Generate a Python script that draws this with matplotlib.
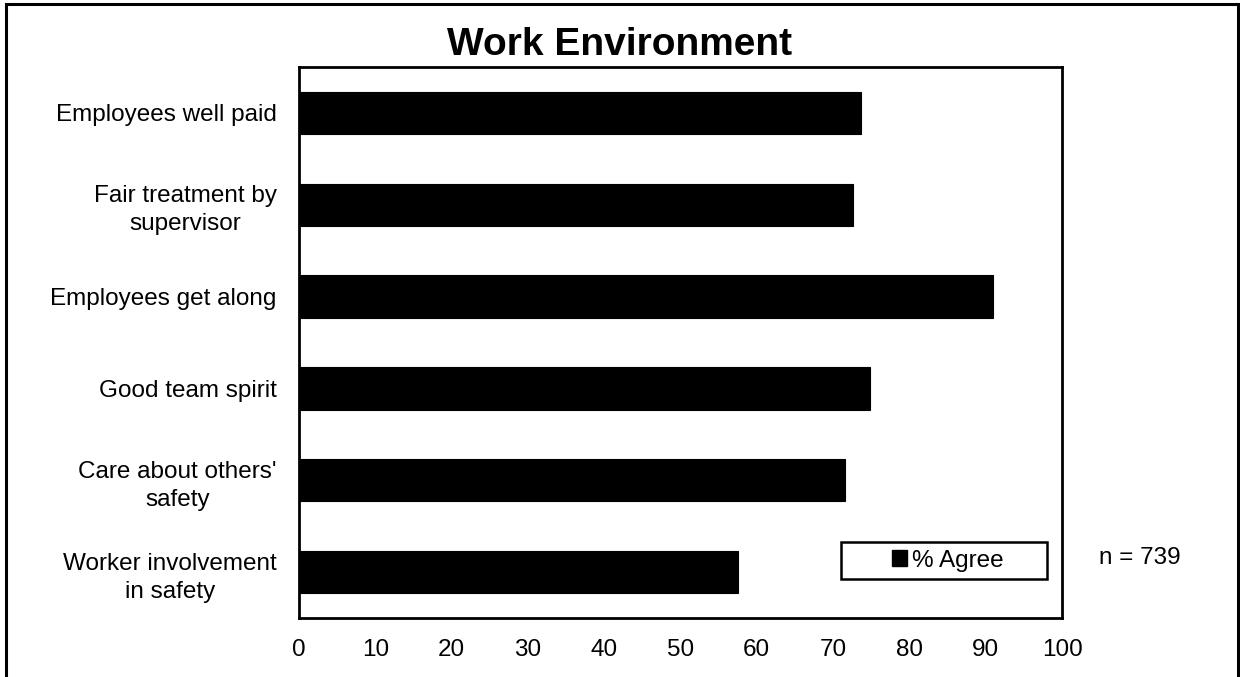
import matplotlib
matplotlib.use("Agg")
import matplotlib.pyplot as plt
from matplotlib.patches import Rectangle, Patch

plt.rcParams['font.family'] = ['Liberation Sans', 'DejaVu Sans']

categories = [
    "Employees well paid",
    "Fair treatment by\nsupervisor",
    "Employees get along",
    "Good team spirit",
    "Care about others'\nsafety",
    "Worker involvement\nin safety",
]
agree_pct = [73.7, 72.6, 91.0, 74.8, 71.6, 57.6]
x_ticks = list(range(0, 101, 10))
series_label = "% Agree"
sample_note = "n = 739"
title = "Work Environment"

W, H = 1240, 677
fig = plt.figure(figsize=(W / 100, H / 100), dpi=100)
fig.patch.set_facecolor("white")

# outer frame around the whole chart (bottom edge runs off the canvas)
frame = Rectangle((6 / W, -10 / H), (1238 - 6) / W, (H - 4 + 10) / H,
                  transform=fig.transFigure, fill=False, edgecolor="black",
                  linewidth=2.2, clip_on=False)
fig.add_artist(frame)

ax = fig.add_axes([299 / W, 1 - 618 / H, (1062 - 299) / W, (618 - 67) / H])

ypos = list(range(len(categories)))
ax.barh(ypos, agree_pct, height=0.46, color="black", edgecolor="black",
        linewidth=0.8, label=series_label)
ax.set_yticks(ypos)
ax.set_yticklabels(categories, fontsize=17.5, multialignment="center",
                   linespacing=1.35)
ax.set_ylim(len(categories) - 0.5, -0.5)
ax.set_xlim(0, 100)
ax.set_xticks(x_ticks)
ax.set_xticklabels([str(t) for t in x_ticks], fontsize=17.5)
ax.tick_params(axis="both", length=0)
ax.tick_params(axis="x", pad=15)
ax.tick_params(axis="y", pad=16)
for sp in ax.spines.values():
    sp.set_linewidth(2)
    sp.set_color("black")

# legend with its own framed box
lx0, lx1 = (841 - 299) / 763, (1047 - 299) / 763
ly0, ly1 = (618 - 579) / 551, (618 - 542) / 551
ax.add_patch(Rectangle((lx0, ly0), lx1 - lx0, ly1 - ly0, transform=ax.transAxes,
                       fill=True, facecolor="white", edgecolor="black",
                       linewidth=1.8, clip_on=False, zorder=5))
handle = Patch(facecolor="black", edgecolor="black", label=series_label)
leg = ax.legend(handles=[handle], loc="center",
                bbox_to_anchor=((lx0 + lx1) / 2 + 0.005, (ly0 + ly1) / 2),
                frameon=False, fontsize=17.5, handlelength=0.6, handleheight=0.6,
                handletextpad=0.2, borderpad=0, borderaxespad=0)
leg.set_zorder(6)

ax.text((1140 - 299) / 763, (618 - 558) / 551, sample_note, transform=ax.transAxes,
        ha="center", va="center", fontsize=17.5, clip_on=False)

fig.text(0.5, 1 - 45 / H, title, ha="center", va="center",
         fontsize=28, fontweight="bold")

fig.savefig("out.png", dpi=100, facecolor="white")
